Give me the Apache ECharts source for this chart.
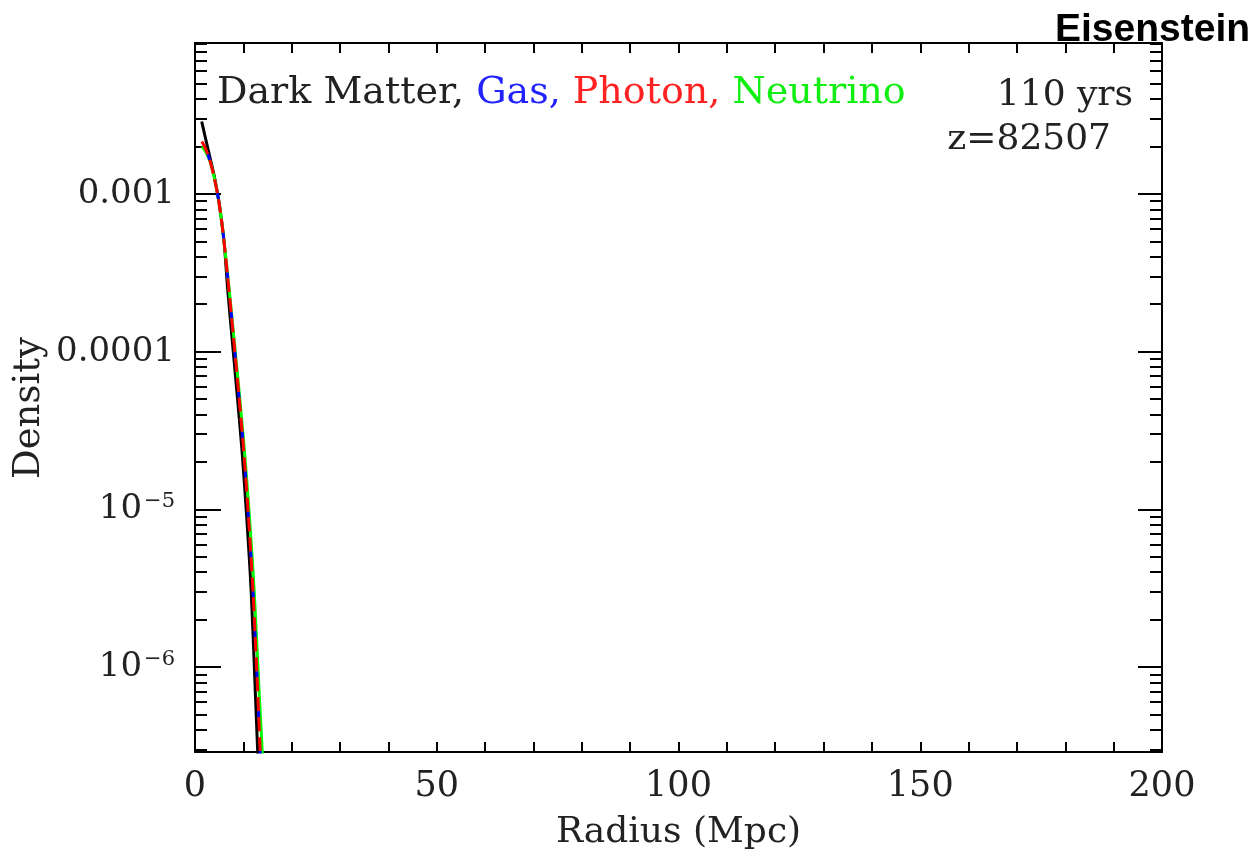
<!DOCTYPE html>
<html>
<head>
<meta charset="utf-8">
<script src="https://cdn.jsdelivr.net/npm/echarts@6/dist/echarts.min.js"></script>
<style>
  html, body { margin: 0; padding: 0; background: #fff; }
  #chart { width: 1253px; height: 857px; }
</style>
</head>
<body>
<div id="chart"></div>
<script>
// radius (Mpc) / density
const dmRadius = [1.39, 2, 3, 4, 5, 6, 6.75, 7.68, 8.65, 9.65, 10.63, 11.62, 12.5, 12.92, 13.45]
const dmDensity = [2.88e-3, 2.38e-3, 1.75e-3, 1.29e-3, 8.71e-4, 5.01e-4, 2.51e-4, 1.202e-4, 5.62e-5, 2.51e-5, 9.55e-6, 3.02e-6, 6.61e-7, 3.16e-7, 1.26e-7]

const gasRadius = [1.4, 2, 3, 4, 5, 6, 7, 8, 9, 10, 11, 12, 13, 13.44, 14]
const gasDensity = [2.148e-3, 1.995e-3, 1.66e-3, 1.259e-3, 8.71e-4, 5.01e-4, 2.51e-4, 1.202e-4, 5.62e-5, 2.51e-5, 9.55e-6, 3.02e-6, 6.61e-7, 3.16e-7, 1.26e-7]

const photonRadius = [1.4, 2, 3, 4, 5, 6, 7, 8, 9, 10, 11, 12, 13, 13.44, 14]
const photonDensity = [2.148e-3, 1.995e-3, 1.66e-3, 1.259e-3, 8.71e-4, 5.01e-4, 2.51e-4, 1.202e-4, 5.62e-5, 2.51e-5, 9.55e-6, 3.02e-6, 6.61e-7, 3.16e-7, 1.26e-7]

const neutrinoRadius = [1.45, 2, 3, 4, 5, 6, 7.05, 8.08, 9.12, 10.15, 11.2, 12.25, 13.3, 13.85, 14.4]
const neutrinoDensity = [2.0e-3, 1.9e-3, 1.64e-3, 1.259e-3, 8.71e-4, 5.01e-4, 2.51e-4, 1.202e-4, 5.62e-5, 2.51e-5, 9.55e-6, 3.02e-6, 6.61e-7, 3.16e-7, 1.26e-7]

const xLabels = [0, 50, 100, 150, 200]
const yDecades = [-6, -5, -4, -3]
const yMin = 2.9e-7
const yMax = 9.06e-3

const logMin = Math.log10(yMin)
const logMax = Math.log10(yMax)

// minor ticks at 2..9 x 10^d
const minorTicks = []
for (let d = -7; d <= -3; d++) {
  for (let k = 2; k <= 9; k++) {
    const v = d + Math.log10(k)
    if (v >= logMin && v <= logMax) minorTicks.push(v)
  }
}

const pairs = (xs, ys) => xs.map((x, i) => [x, ys[i]])

const FONT = 'DejaVu Serif'
const TEXT = '#222'
const black = '#000'

const tickAxisBase = (position, values, len) => ({
  type: 'value',
  gridIndex: 0,
  position: position,
  min: logMin,
  max: logMax,
  axisLine: { show: false, onZero: false },
  splitLine: { show: false },
  axisTick: {
    show: true,
    inside: true,
    length: len,
    customValues: values,
    lineStyle: { color: black, width: 2 }
  },
  axisLabel: { show: false }
})

const chart = echarts.init(document.getElementById('chart'))

chart.setOption({
  animation: false,
  backgroundColor: '#fff',
  grid: { left: 195, top: 43, width: 967, height: 709, containLabel: false },
  xAxis: [
    {
      type: 'value',
      position: 'bottom',
      min: 0,
      max: 200,
      interval: 10,
      name: 'Radius (Mpc)',
      nameLocation: 'middle',
      nameGap: 63,
      nameTextStyle: { fontFamily: FONT, fontSize: 36, color: TEXT },
      axisLine: { onZero: false, lineStyle: { color: black, width: 2 } },
      axisTick: { inside: true, length: 10, lineStyle: { color: black, width: 2 } },
      axisLabel: {
        margin: 17,
        fontFamily: FONT,
        fontSize: 35,
        color: TEXT,
        formatter: v => (xLabels.indexOf(v) >= 0 ? String(v) : '')
      },
      splitLine: { show: false }
    },
    {
      type: 'value',
      position: 'top',
      min: 0,
      max: 200,
      interval: 10,
      axisLine: { onZero: false, lineStyle: { color: black, width: 2 } },
      axisTick: { inside: true, length: 10, lineStyle: { color: black, width: 2 } },
      axisLabel: { show: false },
      splitLine: { show: false }
    }
  ],
  yAxis: [
    {
      type: 'log',
      logBase: 10,
      position: 'left',
      min: yMin,
      max: yMax,
      axisLine: { onZero: false, lineStyle: { color: black, width: 2 } },
      axisTick: { show: false },
      axisLabel: { show: false },
      splitLine: { show: false }
    },
    Object.assign(tickAxisBase('left', yDecades, 26), {
      axisLabel: {
        show: true,
        margin: 20,
        customValues: yDecades,
        fontFamily: FONT,
        fontSize: 34,
        color: TEXT,
        formatter: v => {
          if (v === -3) return '0.001'
          if (v === -4) return '0.0001'
          return '{b|10}{s|\u2212' + (-v) + '}'
        },
        rich: {
          b: { fontFamily: FONT, fontSize: 34, color: TEXT, lineHeight: 36 },
          s: { fontFamily: FONT, fontSize: 21, color: TEXT, verticalAlign: 'top', lineHeight: 36, padding: [0, 0, 12, 2] }
        }
      }
    }),
    tickAxisBase('left', minorTicks, 12),
    Object.assign(tickAxisBase('right', yDecades, 24), {
      axisLine: { show: true, onZero: false, lineStyle: { color: black, width: 2 } }
    }),
    tickAxisBase('right', minorTicks, 12)
  ],
  graphic: [
    {
      type: 'text',
      left: 217,
      top: 74,
      style: {
        text: '{k|Dark Matter, }{b|Gas, }{r|Photon, }{g|Neutrino}',
        rich: {
          k: { fontFamily: FONT, fontSize: 38, fill: TEXT },
          b: { fontFamily: FONT, fontSize: 38, fill: '#2222ff' },
          r: { fontFamily: FONT, fontSize: 38, fill: '#ff2222' },
          g: { fontFamily: FONT, fontSize: 38, fill: '#11ee11' }
        }
      }
    },
    {
      type: 'text',
      right: 120,
      top: 78,
      style: { text: '110 yrs', fontFamily: FONT, fontSize: 36, fill: TEXT }
    },
    {
      type: 'text',
      right: 142,
      top: 122,
      style: { text: 'z=82507', fontFamily: FONT, fontSize: 36, fill: TEXT }
    },
    {
      type: 'text',
      left: 1055,
      top: 11,
      style: { text: 'Eisenstein', fontFamily: 'Liberation Sans', fontWeight: 'bold', fontSize: 39, fill: '#000' }
    },
    {
      type: 'text',
      x: 29,
      y: 408,
      rotation: Math.PI / 2,
      style: { text: 'Density', fontFamily: FONT, fontSize: 37, fill: TEXT, align: 'center', verticalAlign: 'middle' }
    }
  ],
  series: [
    {
      name: 'Dark Matter',
      type: 'line',
      xAxisIndex: 0,
      yAxisIndex: 0,
      showSymbol: false,
      smooth: 0.3,
      lineStyle: { color: '#000', width: 3 },
      data: pairs(dmRadius, dmDensity)
    },
    {
      name: 'Neutrino',
      type: 'line',
      xAxisIndex: 0,
      yAxisIndex: 0,
      showSymbol: false,
      smooth: 0.3,
      lineStyle: { color: '#00ff00', width: 3 },
      data: pairs(neutrinoRadius, neutrinoDensity)
    },
    {
      name: 'Gas',
      type: 'line',
      xAxisIndex: 0,
      yAxisIndex: 0,
      showSymbol: false,
      smooth: 0.3,
      lineStyle: { color: '#0000ff', width: 3, type: [6, 34], dashOffset: 26 },
      data: pairs(gasRadius, gasDensity)
    },
    {
      name: 'Photon',
      type: 'line',
      xAxisIndex: 0,
      yAxisIndex: 0,
      showSymbol: false,
      smooth: 0.3,
      lineStyle: { color: '#ff0000', width: 3, type: [14, 6] },
      data: pairs(photonRadius, photonDensity)
    }
  ]
})
</script>
</body>
</html>
